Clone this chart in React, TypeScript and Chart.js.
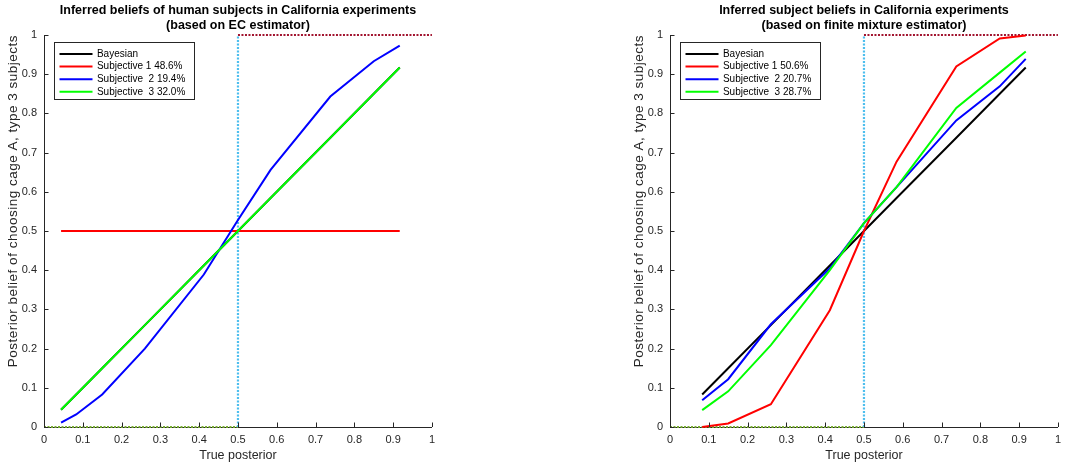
import React, { useEffect, useRef } from "react";
import { Chart, registerables } from "chart.js";

Chart.register(...registerables);

const FONT = "'Liberation Sans', Arial, Helvetica, sans-serif";
const AXIS_COLOR = "#262626";

// ---------- text ----------
const leftTitle = ["Inferred beliefs of human subjects in California experiments", "(based on EC estimator)"];
const rightTitle = ["Inferred subject beliefs in California experiments", "(based on finite mixture estimator)"];
const xAxisLabel = "True posterior";
const yAxisLabel = "Posterior belief of choosing cage A, type 3 subjects";

const leftLegend = ["Bayesian", "Subjective 1 48.6%", "Subjective  2 19.4%", "Subjective  3 32.0%"];
const rightLegend = ["Bayesian", "Subjective 1 50.6%", "Subjective  2 20.7%", "Subjective  3 28.7%"];

const tickValues = [0, 0.1, 0.2, 0.3, 0.4, 0.5, 0.6, 0.7, 0.8, 0.9, 1];

// ---------- left panel data (EC estimator) ----------
const leftPosterior = [0.044, 0.083, 0.15, 0.26, 0.412, 0.5, 0.584, 0.738, 0.85, 0.917];
const leftBayesian = [0.044, 0.083, 0.15, 0.26, 0.412, 0.5, 0.584, 0.738, 0.85, 0.917];
const leftSubj1 = [0.5, 0.5, 0.5, 0.5, 0.5, 0.5, 0.5, 0.5, 0.5, 0.5];
const leftSubj2 = [0.011, 0.032, 0.083, 0.2, 0.389, 0.528, 0.656, 0.843, 0.933, 0.973];
const leftSubj3 = [0.044, 0.083, 0.15, 0.26, 0.412, 0.5, 0.584, 0.738, 0.85, 0.917];

// ---------- right panel data (finite mixture estimator) ----------
const rightPosterior = [0.083, 0.15, 0.26, 0.412, 0.5, 0.584, 0.738, 0.85, 0.917];
const rightBayesian = [0.083, 0.15, 0.26, 0.412, 0.5, 0.584, 0.738, 0.85, 0.917];
const rightSubj1 = [0.0, 0.009, 0.058, 0.298, 0.5, 0.677, 0.92, 0.991, 0.999];
const rightSubj2 = [0.068, 0.122, 0.262, 0.405, 0.52, 0.612, 0.782, 0.869, 0.939];
const rightSubj3 = [0.043, 0.091, 0.209, 0.4, 0.52, 0.612, 0.814, 0.904, 0.958];

// ---------- reference (dotted) lines ----------
const refTopX = [0.5, 1];
const refTopY = [1, 1];
const refMidX = [0.5, 0.5];
const refMidY = [0, 1];
const refBottomX = [0, 0.5];
const refBottomY = [0, 0];

const seriesColors = ["#000000", "#ff0000", "#0000ff", "#00ff00"];

function pts(xs: number[], ys: number[]) {
  return xs.map((x, i) => ({ x, y: ys[i] }));
}

function fmt(v: any) {
  return String(Number(Number(v).toFixed(1)));
}

const boxLegend = {
  id: "boxLegend",
  afterDraw(chart: any) {
    const { ctx, chartArea } = chart;
    const items = chart.data.datasets.filter((d: any) => d.label);
    items.sort((a: any, b: any) => a.legendIndex - b.legendIndex);
    ctx.save();
    ctx.font = `10px ${FONT}`;
    const tw = Math.max(...items.map((d: any) => ctx.measureText(d.label).width));
    const bx = chartArea.left + 10.5;
    const by = chartArea.top + 7.5;
    const bw = Math.round(42 + tw + 10);
    const bh = 57;
    ctx.fillStyle = "#ffffff";
    ctx.fillRect(bx, by, bw, bh);
    ctx.strokeStyle = AXIS_COLOR;
    ctx.lineWidth = 1;
    ctx.strokeRect(bx, by, bw, bh);
    items.forEach((d: any, i: number) => {
      const cy = by + 11.5 + i * 12.6;
      ctx.strokeStyle = d.borderColor;
      ctx.lineWidth = 2;
      ctx.beginPath();
      ctx.moveTo(bx + 5, cy);
      ctx.lineTo(bx + 38, cy);
      ctx.stroke();
      ctx.fillStyle = "#000000";
      ctx.textBaseline = "middle";
      ctx.textAlign = "left";
      ctx.fillText(d.label, bx + 42.4, cy);
    });
    ctx.restore();
  },
};

const yTitle = {
  id: "yTitle",
  afterDraw(chart: any) {
    const { ctx, chartArea } = chart;
    ctx.save();
    ctx.font = `13.5px ${FONT}`;
    ctx.fillStyle = AXIS_COLOR;
    (ctx as any).letterSpacing = "0.5px";
    ctx.translate(17, chartArea.top);
    ctx.rotate(-Math.PI / 2);
    ctx.textAlign = "right";
    ctx.textBaseline = "alphabetic";
    ctx.fillText(yAxisLabel, 0, 0);
    ctx.restore();
  },
};

const inwardTicks = {
  id: "inwardTicks",
  afterDatasetsDraw(chart: any) {
    const { ctx, chartArea, scales } = chart;
    ctx.save();
    ctx.strokeStyle = AXIS_COLOR;
    ctx.lineWidth = 1;
    scales.x.ticks.forEach((t: any) => {
      const px = Math.round(scales.x.getPixelForValue(t.value)) + 0.5;
      ctx.beginPath();
      ctx.moveTo(px, chartArea.bottom);
      ctx.lineTo(px, chartArea.bottom - 4.5);
      ctx.stroke();
    });
    scales.y.ticks.forEach((t: any) => {
      const py = Math.round(scales.y.getPixelForValue(t.value)) + 0.5;
      ctx.beginPath();
      ctx.moveTo(chartArea.left, py);
      ctx.lineTo(chartArea.left + 4.5, py);
      ctx.stroke();
    });
    ctx.restore();
  },
};

function makeConfig(
  title: string[],
  legend: string[],
  xs: number[],
  bayes: number[],
  s1: number[],
  s2: number[],
  s3: number[]
): any {
  const series = [bayes, s1, s2, s3];
  const drawOrder = [3, 2, 1, 0];
  const dataSets: any[] = series.map((ys, i) => ({
    label: legend[i],
    legendIndex: i,
    data: pts(xs, ys),
    borderColor: seriesColors[i],
    backgroundColor: seriesColors[i],
    borderWidth: 2,
    pointRadius: 0,
    tension: 0,
    fill: false,
    clip: false,
    order: drawOrder[i],
  }));
  const refs = [
    { xs: refTopX, ys: refTopY, color: "#a2142f" },
    { xs: refMidX, ys: refMidY, color: "#4dbeee" },
    { xs: refBottomX, ys: refBottomY, color: "#77ac30" },
  ];
  refs.forEach((r, i) => {
    dataSets.push({
      label: "",
      data: pts(r.xs, r.ys),
      borderColor: r.color,
      backgroundColor: r.color,
      borderWidth: 2.2,
      borderDash: [2, 1.5],
      pointRadius: 0,
      fill: false,
      clip: false,
      order: 5 + i,
    });
  });

  return {
    type: "line",
    data: { datasets: dataSets },
    plugins: [inwardTicks, boxLegend, yTitle],
    options: {
      animation: false,
      responsive: false,
      events: [],
      layout: { padding: { left: 0, right: 5, top: 0, bottom: 0 } },
      plugins: {
        legend: { display: false },
        tooltip: { enabled: false },
        title: {
          display: true,
          fullSize: false,
          text: title,
          color: "#000000",
          font: { family: FONT, size: 12.5, weight: "bold", lineHeight: 1.2 },
          padding: { top: 3, bottom: 2 },
        },
      },
      scales: {
        x: {
          type: "linear",
          min: 0,
          max: 1,
          afterFit: (s: any) => {
            s.height = 39;
          },
          afterBuildTicks: (s: any) => {
            s.ticks = tickValues.map((v) => ({ value: v }));
          },
          grid: { display: false, drawTicks: false },
          border: { display: true, color: AXIS_COLOR, width: 1 },
          ticks: {
            padding: 6,
            color: AXIS_COLOR,
            autoSkip: false,
            maxRotation: 0,
            font: { family: FONT, size: 11 },
            callback: (v: any) => fmt(v),
          },
          title: {
            display: true,
            text: xAxisLabel,
            color: AXIS_COLOR,
            font: { family: FONT, size: 12.5 },
            padding: { top: 0, bottom: 3 },
          },
        },
        y: {
          type: "linear",
          min: 0,
          max: 1,
          afterFit: (s: any) => {
            s.width = 44;
          },
          afterBuildTicks: (s: any) => {
            s.ticks = tickValues.map((v) => ({ value: v }));
          },
          grid: { display: false, drawTicks: false },
          border: { display: true, color: AXIS_COLOR, width: 1 },
          ticks: {
            padding: 7,
            color: AXIS_COLOR,
            autoSkip: false,
            font: { family: FONT, size: 11 },
            callback: (v: any) => fmt(v),
          },
          title: { display: false },
        },
      },
    },
  };
}

function Panel(props: { left: number; config: () => any }) {
  const ref = useRef<HTMLCanvasElement>(null);
  useEffect(() => {
    const chart = new Chart(ref.current as HTMLCanvasElement, props.config());
    return () => chart.destroy();
  }, []);
  return (
    <canvas
      ref={ref}
      width={441}
      height={466}
      style={{ position: "absolute", left: props.left, top: 0, width: 441, height: 466 }}
    />
  );
}

export default function App() {
  return (
    <div
      style={{
        position: "absolute",
        left: 0,
        top: 0,
        width: 1067,
        height: 466,
        overflow: "hidden",
        background: "#ffffff",
      }}
    >
      <Panel
        left={0}
        config={() => makeConfig(leftTitle, leftLegend, leftPosterior, leftBayesian, leftSubj1, leftSubj2, leftSubj3)}
      />
      <Panel
        left={626}
        config={() =>
          makeConfig(rightTitle, rightLegend, rightPosterior, rightBayesian, rightSubj1, rightSubj2, rightSubj3)
        }
      />
    </div>
  );
}
